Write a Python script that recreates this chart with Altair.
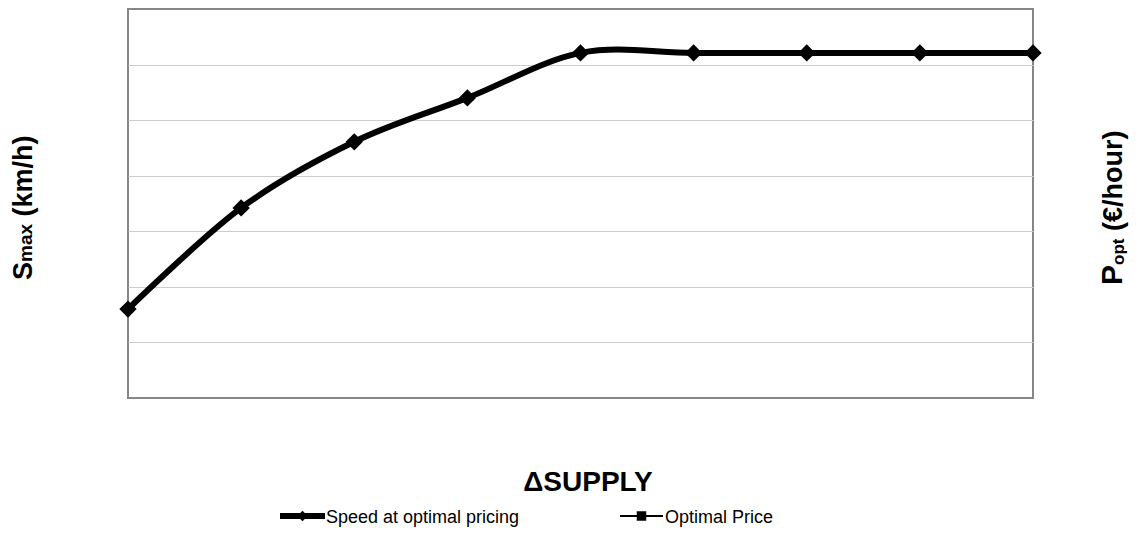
import altair as alt
import pandas as pd

# ---- data ----
supply_steps = [1, 2, 3, 4, 5, 6, 7, 8, 9]
speed_values = [16.0, 34.2, 46.1, 54.0, 62.1, 62.1, 62.1, 62.1, 62.1]
grid_values = [10, 20, 30, 40, 50, 60]

series_name = "Speed at optimal pricing"
second_name = "Optimal Price"

df = pd.DataFrame({"supply": supply_steps, "speed": speed_values})
one = pd.DataFrame({"k": [0]})

FONT = "Liberation Sans"

x_enc = alt.X("supply:Q", scale=alt.Scale(domain=[1, 9], nice=False, zero=False), axis=None)
y_enc = alt.Y(
    "speed:Q",
    scale=alt.Scale(domain=[0, 70], nice=False),
    axis=alt.Axis(values=grid_values, grid=True, labels=False, ticks=False,
                  domain=False, title=None, gridColor="#cccccc", gridWidth=1),
)

line = alt.Chart(df).mark_line(color="black", strokeWidth=6, interpolate="cardinal").encode(x=x_enc, y=y_enc)
points = alt.Chart(df).mark_point(shape="diamond", filled=True, color="black", size=300, opacity=1).encode(
    x=x_enc, y=y_enc)


def label(text, x, y, size, angle=0, align="left", baseline="alphabetic", weight="normal"):
    kw = dict(text=text, align=align, baseline=baseline, fontSize=size,
              fontWeight=weight, font=FONT, color="black")
    if angle:
        kw["angle"] = angle
    return alt.Chart(one).mark_text(**kw).encode(x=alt.value(x), y=alt.value(y))


# left axis title: S max (km/h)
left_parts = [
    label("S", -96, 271, 27, angle=270, weight="bold"),
    label("max", -96, 253, 19, angle=270, weight="bold"),
    label("(km/h)", -96, 207.5, 27, angle=270, weight="bold"),
]
# right axis title: P opt (€/hour)
right_parts = [
    label("P", 994, 276, 30, angle=270, weight="bold"),
    label("opt", 996, 256, 17, angle=270, weight="bold"),
    label("(€/hour)", 994, 222, 27, angle=270, weight="bold"),
]
x_title = label("ΔSUPPLY", 460, 482, 28, align="center", weight="bold")

# legend
leg1_line = alt.Chart(one).mark_rule(color="black", strokeWidth=6).encode(
    x=alt.value(152), x2=alt.value(197), y=alt.value(507))
leg1_pt = alt.Chart(one).mark_point(shape="diamond", filled=True, color="black", size=110, opacity=1).encode(
    x=alt.value(174.5), y=alt.value(507))
leg1_txt = label(series_name, 198, 509, 18, baseline="middle")
leg2_line = alt.Chart(one).mark_rule(color="black", strokeWidth=2).encode(
    x=alt.value(492), x2=alt.value(535), y=alt.value(507))
leg2_pt = alt.Chart(one).mark_square(filled=True, color="black", size=90, opacity=1).encode(
    x=alt.value(513.5), y=alt.value(507))
leg2_txt = label(second_name, 537, 509, 18, baseline="middle")

chart = alt.layer(
    line, points, *left_parts, *right_parts, x_title,
    leg1_line, leg1_pt, leg1_txt, leg2_line, leg2_pt, leg2_txt,
).properties(
    width=905, height=389,
    autosize=alt.AutoSizeParams(type="none"),
    padding={"left": 120, "top": 1, "right": 97, "bottom": 140},
).configure_view(
    stroke="#868686", strokeWidth=2
)

chart.save("out.html", embed_options={"renderer": "svg", "actions": False})
